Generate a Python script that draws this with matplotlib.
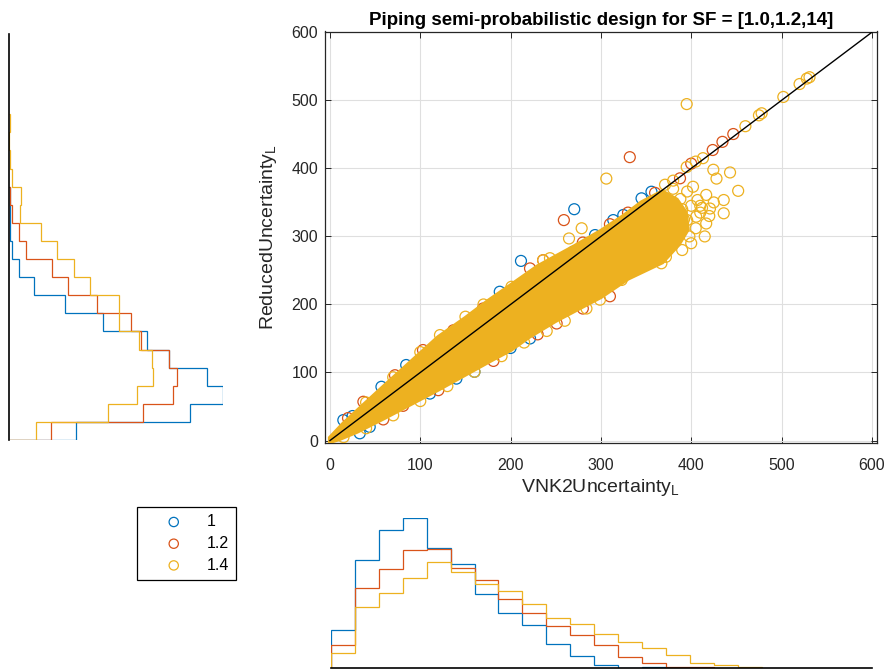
import numpy as np
import matplotlib.pyplot as plt

plt.rcParams['font.family'] = ['Liberation Sans', 'DejaVu Sans']
plt.rcParams['mathtext.fontset'] = 'custom'
plt.rcParams['mathtext.rm'] = 'Liberation Sans'

# colores MATLAB por defecto
azul = '#0072BD'
rojo = '#D95319'
amarillo = '#EDB120'
grupos = ['1', '1.2', '1.4']

# nube densa (SF=1.4): borde superior e inferior
banda_sup_x = [0, 15, 37, 60, 85, 120, 150, 175, 200, 230, 270, 300, 325, 345, 368]
banda_sup_y = [4, 25, 52, 80, 110, 152, 180, 205, 228, 256, 285, 308, 330, 350, 366]
banda_fin_x = [384, 394, 396, 386, 368]
banda_fin_y = [354, 335, 310, 288, 262]
banda_inf_x = [330, 300, 270, 250, 220, 200, 180, 150, 120, 90, 60, 30, 10, 0]
banda_inf_y = [238, 211, 190, 176, 152, 133, 119, 97, 75, 54, 33, 13, 2, -2]

# circulos sueltos, SF = 1
azul_x = [211.5, 270.5, 14.8, 57, 84.4, 188, 269.4, 293.5, 313.7, 324.8, 356, 345,
          33, 44, 110.7, 140, 221.5, 200, 25, 160]
azul_y = [264, 340, 30, 79, 111, 218.7, 277.5, 302, 324, 331.5, 365.7, 356,
          10.6, 20, 69, 91, 150, 136, 36, 101]
# SF = 1.2
rojo_x = [259, 332, 446.6, 434.6, 423.8, 400, 387.6, 360, 330, 310, 280,
          37, 72, 103, 136.6, 169.4, 221.5, 236, 20,
          59, 81, 181, 251, 310, 280, 230, 120]
rojo_y = [324, 416.5, 450.5, 439, 427, 407, 385.4, 364, 335, 318, 291,
          57, 96, 133, 162, 194, 253, 265, 33,
          31, 51, 117, 172, 212, 194, 156, 74]
# SF = 1.4
amar_x = [395, 306, 278.7, 264.7, 121.8, 236, 243.6, 201,
          531, 528, 520, 502, 478, 475, 460, 413, 405, 395, 371, 380,
          443, 424.5, 428, 452, 436, 420.8, 436, 402, 395.5, 416.6, 407, 405.5,
          416.6, 395.5, 367, 376.5, 383.4, 390, 388, 375, 360, 365, 350, 345,
          340, 355, 370, 385, 398, 400, 410, 380,
          410, 420, 425, 415, 400, 390, 372, 378, 405, 412, 392, 383,
          323, 299, 284, 260, 240, 215, 190, 160, 130, 100, 70, 40, 15,
          40, 70, 100, 150, 170]
amar_y = [494.5, 385, 312, 297, 155, 265, 268, 226,
          534, 532, 524, 505, 481, 478, 462, 415, 410, 402, 376, 382,
          394, 398, 385, 367, 353.5, 341, 334, 373, 366, 361, 353.5, 329,
          319, 324, 260.5, 290, 309, 340, 355, 340, 320, 300, 290, 275,
          262, 310, 325, 320, 300, 345, 335, 370,
          345, 330, 350, 300, 290, 280, 270, 300, 312, 342, 325, 296,
          236, 207, 194, 176, 161, 144, 124, 101, 80, 58, 37, 18, 5,
          56, 93, 130, 182, 200]

# histogramas marginales (densidad relativa)
hx_inicio, hx_ancho = 1.1, 26.5
hx_azul = [112, 322, 413, 448, 358, 310, 222, 164, 127, 72, 35, 7, 0, 2]
hx_rojo = [67, 239, 295, 352, 355, 298, 262, 205, 164, 124, 97, 69, 32, 14, 2, 1]
hx_amar = [44, 182, 225, 268, 316, 288, 250, 230, 192, 150, 132, 102, 77, 60, 37, 14, 7, 2]

hy_inicio, hy_ancho = 0.7, 26.6
hy_azul = [202, 544, 641, 594, 480, 413, 283, 169, 74, 29, 8, 4, 3, 3]
hy_rojo = [127, 403, 493, 505, 479, 395, 367, 265, 177, 130, 52, 31, 10, 4]
hy_amar = [82, 297, 385, 433, 430, 391, 331, 331, 242, 194, 145, 96, 34, 37, 10, 4, 0, 4]

W, H = 888, 669
fig = plt.figure(figsize=(W / 100, H / 100), dpi=100)

# eje principal
ax = fig.add_axes([325 / W, 1 - 442.7 / H, 551.7 / W, 411.2 / H])
ax.set_axisbelow(True)
ax.grid(True, color='#dfdfdf', lw=0.8)
ms = 62
lw = 0.9
h1 = ax.scatter(azul_x, azul_y, s=ms, facecolors='none', edgecolors=azul, linewidths=lw, zorder=2)
h2 = ax.scatter(rojo_x, rojo_y, s=ms, facecolors='none', edgecolors=rojo, linewidths=lw, zorder=2)
px = banda_sup_x + banda_fin_x + banda_inf_x
py = banda_sup_y + banda_fin_y + banda_inf_y
ax.fill(px, py, color=amarillo, lw=3, zorder=3)
h3 = ax.scatter(amar_x, amar_y, s=ms, facecolors='none', edgecolors=amarillo, linewidths=lw, zorder=4)
ax.plot([0, 600], [0, 600], color='black', lw=1, zorder=5)

ax.set_xlim(-5.5, 605.4)
ax.set_ylim(-3.2, 601.2)
ax.set_xticks(range(0, 601, 100))
ax.set_yticks(range(0, 601, 100))
ax.tick_params(direction='in', top=True, right=True, length=4, width=0.7,
               colors='#262626', labelsize=11.5, pad=5)
ax.tick_params(axis='x', pad=11)
for s in ax.spines.values():
    s.set_color('#262626')
    s.set_linewidth(0.9)
ax.set_xlabel('VNK2Uncertainty$_\\mathrm{L}$', fontsize=14, color='#262626', labelpad=3)
ax.set_ylabel('ReducedUncertainty$_\\mathrm{L}$', fontsize=14, color='#262626', labelpad=9)
ax.set_title('Piping semi-probabilistic design for SF = [1.0,1.2,14]',
             fontsize=13.5, fontweight='bold', pad=5)

# histograma inferior
axb = fig.add_axes([331 / W, 1 - 667.7 / H, 540.7 / W, 150 / H])
for vals, c in [(hx_azul, azul), (hx_rojo, rojo), (hx_amar, amarillo)]:
    bordes = hx_inicio + hx_ancho * np.arange(len(vals) + 1)
    axb.stairs(vals, bordes, baseline=0, color=c, lw=0.9)
axb.set_xlim(1.1, 600)
axb.set_ylim(0, 450)
axb.set_xticks([])
axb.set_yticks([])
for k in ['top', 'left', 'right']:
    axb.spines[k].set_visible(False)
axb.spines['bottom'].set_linewidth(1.2)
axb.patch.set_alpha(0)

# histograma izquierdo
axl = fig.add_axes([9 / W, 1 - 440 / H, 213.7 / W, 406 / H])
for vals, c in [(hy_azul, azul), (hy_rojo, rojo), (hy_amar, amarillo)]:
    bordes = hy_inicio + hy_ancho * np.arange(len(vals) + 1)
    axl.stairs(vals, bordes, baseline=0, color=c, lw=0.9, orientation='horizontal')
axl.set_ylim(0.7, 597.5)
axl.set_xlim(0, 641)
axl.set_xticks([])
axl.set_yticks([])
for k in ['top', 'bottom', 'right']:
    axl.spines[k].set_visible(False)
axl.spines['left'].set_linewidth(1.2)
axl.patch.set_alpha(0)

leg = fig.legend([h1, h2, h3], grupos, loc='upper left',
                 bbox_to_anchor=(137 / W, 1 - 507 / H), borderaxespad=0,
                 fontsize=11.5, fancybox=False, edgecolor='black', framealpha=1,
                 borderpad=0.45, handlelength=3.7, handletextpad=0.2,
                 labelspacing=0.42, markerscale=0.85)
leg.get_frame().set_linewidth(0.9)

plt.savefig('out.png', dpi=100)
